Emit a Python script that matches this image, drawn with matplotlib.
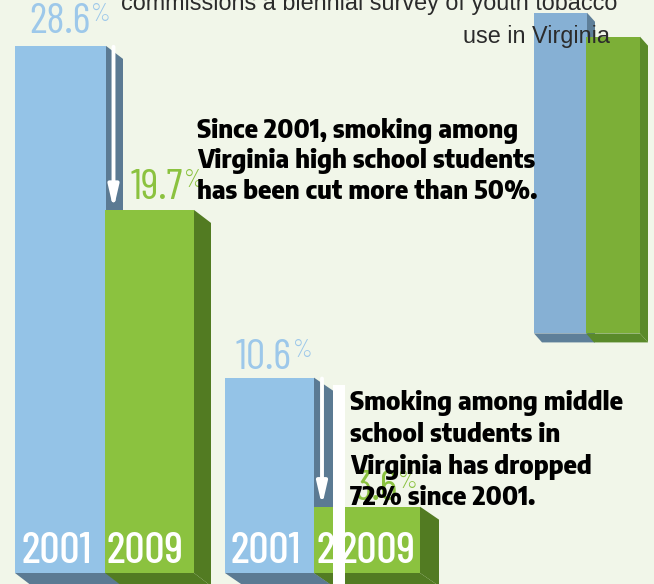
import matplotlib.pyplot as plt
from matplotlib.patches import Polygon, Rectangle

# data
years = ["2001", "2009"]
hs_vals = [28.6, 19.7]      # high school smoking rate, %
ms_vals = [10.6, 3.6]       # middle school smoking rate, %
right_vals = [17.4, 16.1]   # partly visible bars on the right
right_base = 13.0

hs_text = ["Since 2001, smoking among",
           "Virginia high school students",
           "has been cut more than 50%."]
ms_text = ["Smoking among middle",
           "school students in",
           "Virginia has dropped",
           "72% since 2001."]
intro = ["commissions a biennial survey of youth tobacco",
         "use in Virginia"]

W, H = 654, 584
BASE = 573          # baseline pixel row
SCALE = 18.43       # pixels per percent


def py(y):
    # pixel row -> value units
    return (BASE - y) / SCALE


bg = "#F1F6E9"
blue, blue_dk = "#94C3E7", "#5B7A93"
green, green_dk = "#8BC23F", "#527B22"
cond = ["Barlow Condensed", "DejaVu Sans"]
capt = ["Encode Sans Semi Condensed", "DejaVu Sans"]

fig = plt.figure(figsize=(W / 100, H / 100), dpi=100, facecolor=bg)
ax = fig.add_axes([0, 0, 1, 1])
ax.set_facecolor(bg)
ax.set_xlim(0, W)
ax.set_ylim(py(H), py(0))
ax.axis("off")


def T(x, y, s, **kw):
    return fig.text(x / W, 1 - y / H, s, **kw)


# background intro text (sits behind the right bars)
T(617, 10, intro[0], ha="right", fontsize=16.8, color="#2b2b2b",
  family="Liberation Sans", zorder=0)
T(610, 43, intro[1], ha="right", fontsize=16.8, color="#2b2b2b",
  family="Liberation Sans", zorder=0)


def bars3d(lefts, widths, vals, fronts, sides, dx, ddy, bottom=0.0, z=1):
    dy = ddy / SCALE
    for l, w, v, fc, sc in zip(lefts, widths, vals, fronts, sides):
        r = l + w
        top = bottom + v
        side = Polygon([(r, top), (r + dx, top - dy), (r + dx, bottom - dy),
                        (r, bottom)], closed=True, fc=sc, ec="none", zorder=z)
        bot = Polygon([(l, bottom), (r, bottom), (r + dx, bottom - dy),
                       (l + dx, bottom - dy)], closed=True, fc=sc, ec="none",
                      zorder=z)
        ax.add_patch(side)
        ax.add_patch(bot)
        ax.bar(l, v, w, bottom=bottom, align="edge", color=fc, zorder=z + 1)
        z += 2
    return z


# high school group
hs_left, hs_w = [15, 105], [91, 89]
bars3d(hs_left, hs_w, hs_vals, [blue, green], [blue_dk, green_dk], 17, 13, z=2)

# middle school group
ms_left, ms_w = [225, 314], [89, 106]
bars3d(ms_left, ms_w, ms_vals, [blue, green], [blue_dk, green_dk], 19, 13, z=2)

# right-hand bars
bars3d([534, 586], [53, 54], right_vals, ["#86B0D4", "#7CAF37"],
       ["#5E7F99", "#5A8A2A"], 8, 9, bottom=right_base, z=2)

# white strip through the middle group
ax.add_patch(Rectangle((333, py(H)), 12, py(385) - py(H), fc="white",
                       ec="none", zorder=12))

# arrows showing the drop
for x, v0, v1 in [(113.5, hs_vals[0], hs_vals[1]), (322, ms_vals[0], ms_vals[1])]:
    ax.annotate("", xy=(x, v1 + 0.05), xytext=(x, v0 - 0.05),
                arrowprops=dict(arrowstyle="-|>,head_width=0.3,head_length=1.3",
                                color="white", lw=2.8, shrinkA=0, shrinkB=0),
                zorder=11)

# year labels
for x, s in [(22, years[0]), (107, years[1]), (231, years[0]), (339, years[1])]:
    T(x, 563, s, fontsize=32, color="white", family=cond, fontweight=500,
      zorder=20)
T(316, 563, "2", fontsize=32, color="white", family=cond, fontweight=500,
  zorder=11)

# value labels
lblue, lgreen = "#9DC8EA", "#8BC23F"
for x, y, v, c in [(29, 33, hs_vals[0], lblue), (131, 199, hs_vals[1], lgreen),
                   (236, 369, ms_vals[0], lblue), (354, 500, ms_vals[1], lgreen)]:
    t = T(x, y, f"{v}", fontsize=31, color=c, family=cond, fontweight=400,
          zorder=15)
    fig.canvas.draw()
    bb = t.get_window_extent()
    fig.text(bb.x1 / W + 0.001, 1 - (y - 30) / H, "%", fontsize=18, color=c,
             family=cond, fontweight=300, va="top", zorder=15)

# captions
for i, s in enumerate(hs_text):
    T(197, 138 + i * 30.5, s, fontsize=18.3, fontweight=800, color="black",
      family=capt, zorder=30)
for i, s in enumerate(ms_text):
    T(350, 410 + i * 31.8, s, fontsize=18.3, fontweight=800, color="black",
      family=capt, zorder=30)

fig.savefig("out.png", dpi=100, facecolor=bg)
